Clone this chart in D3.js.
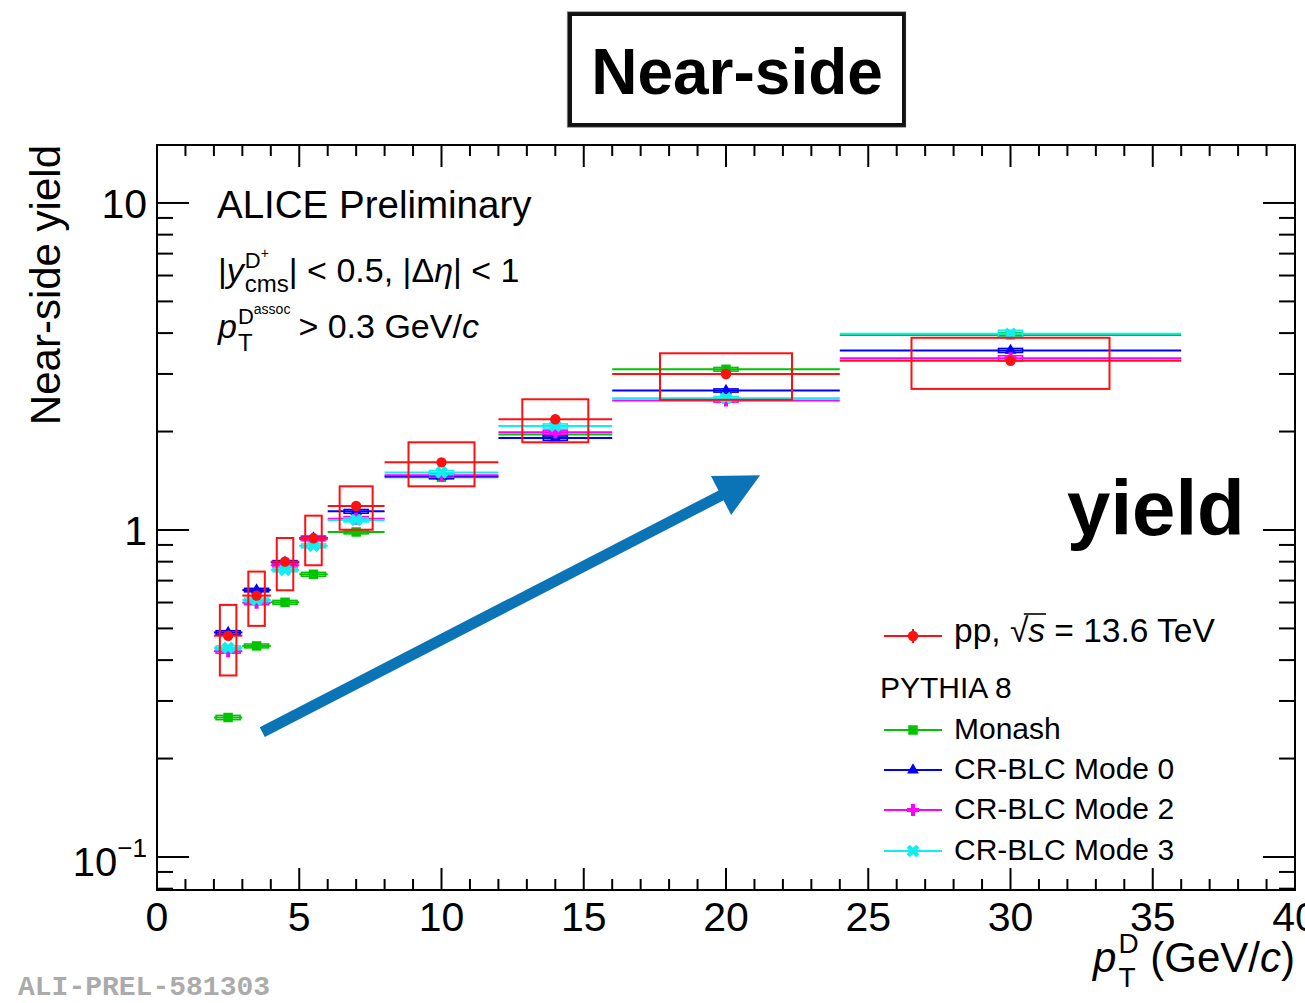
<!DOCTYPE html>
<html>
<head>
<meta charset="utf-8">
<script src="https://cdn.jsdelivr.net/npm/d3@7"></script>
<style>
  body { margin: 0; background: #fff; }
  svg { display: block; }
  text { font-family: "Liberation Sans", Arial, Helvetica, sans-serif; fill: #000; }
</style>
</head>
<body>
<svg id="chart" width="1305" height="1003"></svg>
<script>
// ---- pT bins (GeV/c) ----
const binLow  = [2, 3, 4, 5, 6, 8, 12, 16, 24];
const binHigh = [3, 4, 5, 6, 8, 12, 16, 24, 36];
const binCenter = [2.5, 3.5, 4.5, 5.5, 7, 10, 14, 20, 30];

// ---- measured near-side yield, pp 13.6 TeV ----
const ppYield   = [0.475, 0.630, 0.800, 0.943, 1.184, 1.61, 2.18, 3.00, 3.29];
const ppStat    = [0.010, 0.012, 0.014, 0.016, 0.020, 0.03, 0.04, 0.06, 0.07];
const ppSystLow = [0.359, 0.509, 0.654, 0.780, 1.002, 1.36, 1.854, 2.50, 2.70];
const ppSystHigh= [0.590, 0.746, 0.945, 1.106, 1.360, 1.854, 2.51, 3.47, 3.87];

// ---- PYTHIA 8 predictions ----
const monash = [0.267, 0.442, 0.601, 0.732, 0.986, 1.45, 1.96, 3.10, 3.95];
const mode0  = [0.486, 0.655, 0.796, 0.945, 1.140, 1.46, 1.91, 2.67, 3.54];
const mode2  = [0.426, 0.599, 0.780, 0.939, 1.083, 1.47, 1.99, 2.49, 3.35];
const mode3  = [0.436, 0.611, 0.755, 0.894, 1.073, 1.50, 2.08, 2.53, 3.98];
const monashErr = [0.004, 0.006, 0.008, 0.010, 0.013, 0.02, 0.03, 0.04, 0.06];
const mode0Err  = [0.006, 0.008, 0.010, 0.012, 0.015, 0.02, 0.03, 0.03, 0.05];
const mode2Err  = [0.006, 0.008, 0.010, 0.012, 0.015, 0.02, 0.03, 0.03, 0.06];
const mode3Err  = [0.006, 0.008, 0.010, 0.012, 0.015, 0.02, 0.03, 0.03, 0.10];

// ---- axis ticks ----
const xMajor = [0, 5, 10, 15, 20, 25, 30, 35, 40];
const xMinor = d3.range(0, 41, 1).filter(v => v % 5 !== 0);
const yMajor = [0.1, 1, 10];
const yMinor = [0.08, 0.09, 0.2, 0.3, 0.4, 0.5, 0.6, 0.7, 0.8, 0.9, 2, 3, 4, 5, 6, 7, 8, 9];

// annotation arrow, in data coordinates
const arrowFrom = [3.7, 0.241];
const arrowTo   = [21.2, 1.47];

const svg = d3.select('#chart');
const L = 157, R = 1295, T = 145, B = 890;
const x = d3.scaleLinear().domain([0, 40]).range([L, R]);
const y = d3.scaleLog().domain([0.07926, 15.04]).range([B, T]);

// rich text helper: sequential segments with optional stacking (sub under sup)
function rich(parent, x0, y0, segs, anchor) {
  const g = parent.append('g');
  let cursor = 0;
  const marks = {};
  segs.forEach(s => {
    const sx = s.at !== undefined ? marks[s.at] : cursor;
    const t = g.append('text')
      .attr('x', sx).attr('y', -(s.rise || 0))
      .attr('font-size', s.size)
      .attr('font-style', s.it ? 'italic' : null)
      .attr('font-weight', s.bold ? 'bold' : null)
      .style('white-space', 'pre')
      .text(s.t);
    if (s.mark) marks[s.mark] = sx;
    const w = t.node().getComputedTextLength();
    cursor = Math.max(cursor, sx + w + (s.gap || 0));
  });
  const shift = anchor === 'end' ? -cursor : anchor === 'middle' ? -cursor / 2 : 0;
  g.attr('transform', `translate(${x0 + shift},${y0})`);
  return g;
}

// ---- frame & ticks ----
const axes = svg.append('g').attr('stroke', '#000').attr('stroke-width', 2);
xMajor.forEach(v => {
  axes.append('line').attr('x1', x(v)).attr('x2', x(v)).attr('y1', B).attr('y2', B - 22);
  axes.append('line').attr('x1', x(v)).attr('x2', x(v)).attr('y1', T).attr('y2', T + 22);
});
xMinor.forEach(v => {
  axes.append('line').attr('x1', x(v)).attr('x2', x(v)).attr('y1', B).attr('y2', B - 11);
  axes.append('line').attr('x1', x(v)).attr('x2', x(v)).attr('y1', T).attr('y2', T + 11);
});
yMajor.forEach(v => {
  axes.append('line').attr('x1', L).attr('x2', L + 32).attr('y1', y(v)).attr('y2', y(v));
  axes.append('line').attr('x1', R).attr('x2', R - 32).attr('y1', y(v)).attr('y2', y(v));
});
yMinor.forEach(v => {
  axes.append('line').attr('x1', L).attr('x2', L + 16).attr('y1', y(v)).attr('y2', y(v));
  axes.append('line').attr('x1', R).attr('x2', R - 16).attr('y1', y(v)).attr('y2', y(v));
});
axes.append('rect').attr('x', L).attr('y', T).attr('width', R - L).attr('height', B - T)
  .attr('fill', 'none');

// x tick labels
svg.append('g').selectAll('text').data(xMajor).join('text')
  .attr('x', d => x(d)).attr('y', 931).attr('text-anchor', 'middle')
  .attr('font-size', 41).text(d => d);

// y tick labels
rich(svg, 147, y(10) + 15, [{t: '10', size: 41}], 'end');
rich(svg, 147, y(1) + 15, [{t: '1', size: 41}], 'end');
rich(svg, 147, y(0.1) + 19, [{t: '10', size: 40}, {t: '\u22121', size: 26, rise: 19}], 'end');

// axis titles
rich(svg, 1295, 972, [
  {t: 'p', size: 42, it: true, gap: 2},
  {t: 'D', size: 28, rise: 19, mark: 'a'},
  {t: 'T', size: 28, rise: -15, at: 'a'},
  {t: ' (GeV/', size: 42},
  {t: 'c', size: 42, it: true},
  {t: ')', size: 42}
], 'end');

svg.append('text')
  .attr('transform', `translate(60,${T}) rotate(-90)`)
  .attr('text-anchor', 'end').attr('font-size', 42)
  .text('Near-side yield');

// ---- annotation arrow ----
(function () {
  const x0 = x(arrowFrom[0]), y0 = y(arrowFrom[1]);
  const x1 = x(arrowTo[0]), y1 = y(arrowTo[1]);
  const dx = x1 - x0, dy = y1 - y0, len = Math.hypot(dx, dy);
  const ux = dx / len, uy = dy / len, px = -uy, py = ux;
  const headLen = 44, headHalf = 22;
  const bx = x1 - ux * headLen, by = y1 - uy * headLen;
  const col = '#0b74b7';
  svg.append('line').attr('x1', x0).attr('y1', y0).attr('x2', bx + ux * 4).attr('y2', by + uy * 4)
    .attr('stroke', col).attr('stroke-width', 11);
  svg.append('path')
    .attr('d', `M${x1},${y1}L${bx + px * headHalf},${by + py * headHalf}L${bx - px * headHalf},${by - py * headHalf}Z`)
    .attr('fill', col);
})();

// ---- PYTHIA model curves ----
const models = [
  {name: 'Monash',         vals: monash, err: monashErr, color: '#00c400', marker: 'square'},
  {name: 'CR-BLC Mode 0',  vals: mode0,  err: mode0Err,  color: '#0000ff', marker: 'triangle'},
  {name: 'CR-BLC Mode 2',  vals: mode2,  err: mode2Err,  color: '#ff00ff', marker: 'plus'},
  {name: 'CR-BLC Mode 3',  vals: mode3,  err: mode3Err,  color: '#10eeee', marker: 'cross'}
];

function drawMarker(g, type, cx, cy, color) {
  if (type === 'circle') {
    g.append('circle').attr('cx', cx).attr('cy', cy).attr('r', 5.2).attr('fill', color);
  } else if (type === 'square') {
    g.append('path').attr('d', d3.symbol(d3.symbolSquare, 90)()).attr('transform', `translate(${cx},${cy})`).attr('fill', color);
  } else if (type === 'triangle') {
    g.append('path').attr('d', d3.symbol(d3.symbolTriangle, 60)()).attr('transform', `translate(${cx},${cy})`).attr('fill', color);
  } else if (type === 'plus') {
    g.append('path').attr('d', d3.symbol(d3.symbolCross, 80)()).attr('transform', `translate(${cx},${cy})`).attr('fill', color);
  } else if (type === 'cross') {
    g.append('path').attr('d', d3.symbol(d3.symbolCross, 100)()).attr('transform', `translate(${cx},${cy}) rotate(45)`).attr('fill', color);
  }
}

const mg = svg.append('g');
models.forEach(m => {
  const g = mg.append('g');
  m.vals.forEach((v, i) => {
    g.append('line').attr('x1', x(binLow[i])).attr('x2', x(binHigh[i]))
      .attr('y1', y(v)).attr('y2', y(v)).attr('stroke', m.color).attr('stroke-width', 2);
    const yTop = y(v + m.err[i]), yBot = y(v - m.err[i]);
    g.append('rect').attr('x', x(binCenter[i]) - 12).attr('width', 24)
      .attr('y', yTop).attr('height', Math.max(yBot - yTop, 3))
      .attr('fill', 'none').attr('stroke', m.color).attr('stroke-width', 1.6);
    drawMarker(g, m.marker, x(binCenter[i]), y(v), m.color);
  });
});

// ---- data: systematic boxes, bin widths, stat errors, markers ----
const dg = svg.append('g');
const red = '#ff1010';
ppYield.forEach((v, i) => {
  const w = (binHigh[i] - binLow[i]) * 0.29;
  dg.append('rect')
    .attr('x', x(binCenter[i] - w)).attr('width', x(binCenter[i] + w) - x(binCenter[i] - w))
    .attr('y', y(ppSystHigh[i])).attr('height', y(ppSystLow[i]) - y(ppSystHigh[i]))
    .attr('fill', 'none').attr('stroke', red).attr('stroke-width', 2);
  dg.append('line').attr('x1', x(binLow[i])).attr('x2', x(binHigh[i]))
    .attr('y1', y(v)).attr('y2', y(v)).attr('stroke', red).attr('stroke-width', 2);
  dg.append('line').attr('x1', x(binCenter[i])).attr('x2', x(binCenter[i]))
    .attr('y1', y(v + ppStat[i])).attr('y2', y(v - ppStat[i])).attr('stroke', red).attr('stroke-width', 2);
  drawMarker(dg, 'circle', x(binCenter[i]), y(v), red);
});

// ---- text block ----
svg.append('text').attr('x', 217).attr('y', 218).attr('font-size', 38.5).text('ALICE Preliminary');

rich(svg, 218, 282, [
  {t: '|', size: 34},
  {t: 'y', size: 34, it: true, gap: 1},
  {t: 'D', size: 22, rise: 14, mark: 'a'},
  {t: '+', size: 14, rise: 24},
  {t: 'cms', size: 24, rise: -10, at: 'a'},
  {t: '| < 0.5, |\u0394', size: 34},
  {t: '\u03B7', size: 34, it: true},
  {t: '| < 1', size: 34}
]);

rich(svg, 218, 338, [
  {t: 'p', size: 34, it: true, gap: 1},
  {t: 'D', size: 22, rise: 14, mark: 'a'},
  {t: 'assoc', size: 14, rise: 24, gap: 8},
  {t: 'T', size: 24, rise: -13, at: 'a'},
  {t: '> 0.3 GeV/', size: 34},
  {t: 'c', size: 34, it: true}
]);

// big "yield" label
svg.append('text').attr('x', 1067).attr('y', 535).attr('font-size', 78)
  .attr('font-weight', 'bold').text('yield');

// ---- title box ----
const tb = svg.append('g');
tb.append('rect').attr('x', 570).attr('y', 14).attr('width', 334).attr('height', 111)
  .attr('fill', '#fff').attr('stroke', '#111').attr('stroke-width', 4);
tb.append('rect').attr('x', 567.5).attr('y', 12).attr('width', 338).attr('height', 115)
  .attr('fill', 'none').attr('stroke', '#333').attr('stroke-width', 1.2).attr('opacity', 0.7);
tb.append('text').attr('x', 737).attr('y', 94).attr('text-anchor', 'middle')
  .attr('font-size', 64).attr('font-weight', 'bold').text('Near-side');

// ---- legend ----
const lg = svg.append('g');
const legX1 = 884, legX2 = 942, legMid = 913, legText = 954;
lg.append('line').attr('x1', legX1).attr('x2', legX2).attr('y1', 636).attr('y2', 636)
  .attr('stroke', red).attr('stroke-width', 2);
lg.append('line').attr('x1', legMid).attr('x2', legMid).attr('y1', 629).attr('y2', 643)
  .attr('stroke', red).attr('stroke-width', 2);
drawMarker(lg, 'circle', legMid, 636, red);
const ppLabel = lg.append('text').attr('x', legText).attr('y', 642).attr('font-size', 33.5)
  .style('white-space', 'pre');
ppLabel.append('tspan').text('pp, \u221A');
ppLabel.append('tspan').attr('font-style', 'italic').text('s');
ppLabel.append('tspan').text(' = 13.6 TeV');
{
  const n = ppLabel.node();
  const s0 = n.getStartPositionOfChar(4), s1 = n.getEndPositionOfChar(5);
  lg.append('line').attr('x1', s0.x + 14).attr('x2', s1.x + 1)
    .attr('y1', 642 - 28).attr('y2', 642 - 28).attr('stroke', '#000').attr('stroke-width', 1.6);
}
lg.append('text').attr('x', 880).attr('y', 698).attr('font-size', 30).text('PYTHIA 8');
const legY = [730, 770, 810, 851];
models.forEach((m, i) => {
  lg.append('line').attr('x1', legX1).attr('x2', legX2).attr('y1', legY[i]).attr('y2', legY[i])
    .attr('stroke', m.color).attr('stroke-width', 2);
  drawMarker(lg, m.marker, legMid, legY[i], m.color);
  lg.append('text').attr('x', legText).attr('y', legY[i] + 9).attr('font-size', 30).text(m.name);
});

// ---- figure ID ----
svg.append('text').attr('x', 18).attr('y', 995)
  .style('font-family', '"Liberation Mono", "DejaVu Sans Mono", monospace')
  .attr('font-weight', 'bold').attr('font-size', 28).style('fill', '#ababab')
  .text('ALI-PREL-581303');
</script>
</body>
</html>
